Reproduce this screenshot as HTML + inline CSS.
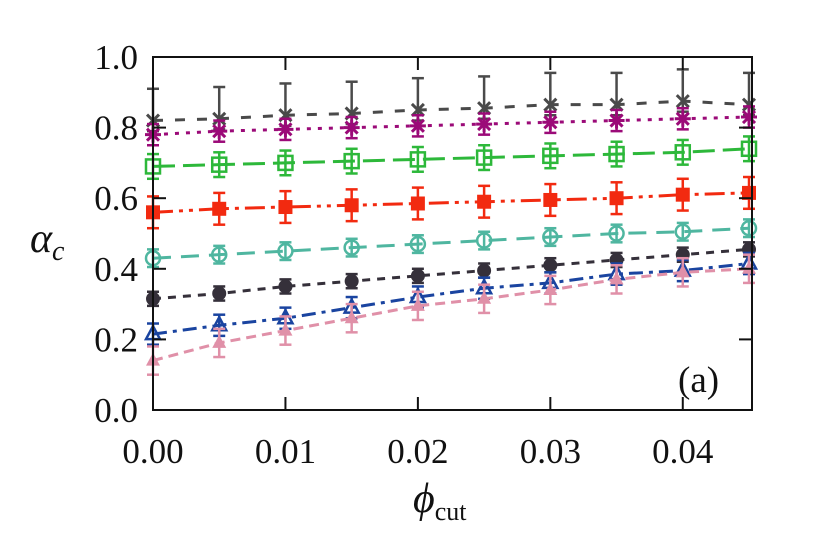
<!DOCTYPE html>
<html><head><meta charset="utf-8"><style>
body{margin:0;background:#fff;width:830px;height:535px;overflow:hidden}
text{font-family:"Liberation Serif","DejaVu Serif",serif;fill:#111}
</style></head><body>
<svg id="chart" width="830" height="535" viewBox="0 0 830 535" xmlns="http://www.w3.org/2000/svg" style="position:absolute;left:0;top:0">
<g id="marks"></g>
<g id="axes"></g>
</svg>
<script>
const xValues=[0,0.005,0.01,0.015,0.02,0.025,0.03,0.035,0.04,0.045];
const sGrayX=[0.82,0.825,0.835,0.84,0.85,0.855,0.865,0.865,0.875,0.865];
const sPurpleStar=[0.78,0.79,0.795,0.80,0.805,0.81,0.815,0.82,0.825,0.83];
const sGreenSquare=[0.69,0.695,0.70,0.705,0.71,0.715,0.72,0.725,0.73,0.74];
const sRedSquare=[0.56,0.57,0.575,0.58,0.585,0.59,0.595,0.60,0.61,0.615];
const sTealCircle=[0.43,0.44,0.45,0.46,0.47,0.48,0.49,0.50,0.505,0.515];
const sDarkDot=[0.315,0.33,0.35,0.365,0.38,0.395,0.41,0.425,0.44,0.455];
const sBlueTri=[0.215,0.24,0.26,0.29,0.32,0.345,0.36,0.385,0.395,0.415];
const sPinkTri=[0.14,0.19,0.225,0.26,0.295,0.315,0.34,0.37,0.39,0.40];
const errsUp=[0.09,0.03,0.035,0.045,0.025,0.02,0.03,0.04];
const errsDown=[0.03,0.03,0.035,0.045,0.025,0.02,0.03,0.04];
const xTicks=[0,0.01,0.02,0.03,0.04];
const xTickLabels=["0.00","0.01","0.02","0.03","0.04"];
const yTicks=[0,0.2,0.4,0.6,0.8,1.0];
const yTickLabels=["0.0","0.2","0.4","0.6","0.8","1.0"];

const L=153,R=752,T=57,B=410;
const xs=v=>L+v/0.045*(749-L);
const ys=v=>B-v*(B-T);
const NS="http://www.w3.org/2000/svg";
function mk(tag,attrs,parent){const e=document.createElementNS(NS,tag);for(const k in attrs)e.setAttribute(k,attrs[k]);parent.appendChild(e);return e;}
const marks=document.getElementById('marks'),axes=document.getElementById('axes');

const series=[
 {d:sGrayX,c:"#4a4a4a",dash:"10 12",m:"x",n:"gray-x"},
 {d:sPurpleStar,c:"#9b0a78",dash:"4 7",m:"star",n:"purple-star"},
 {d:sGreenSquare,c:"#2db83a",dash:"22 8",m:"osq",n:"green-square"},
 {d:sRedSquare,c:"#f22a10",dash:"20 6 4 6 4 6",m:"fsq",n:"red-square"},
 {d:sTealCircle,c:"#4fb6a0",dash:"18 10",m:"oc",n:"teal-circle"},
 {d:sDarkDot,c:"#35303a",dash:"8 7",m:"fc",n:"dark-dot"},
 {d:sBlueTri,c:"#1a44a0",dash:"14 6 4 6",m:"otri",n:"blue-triangle"},
 {d:sPinkTri,c:"#e090a8",dash:"10 6",m:"ftri",n:"pink-triangle"}
];
series.forEach((s,si)=>{
 const g=mk('g',{},marks);
 
 
 const pts=s.d.map((v,i)=>xs(xValues[i])+','+ys(v)).join(' ');
 const pl=mk('polyline',{points:pts,fill:'none',stroke:s.c,'stroke-width':3,'stroke-dasharray':s.dash},g);
 
 
 s.d.forEach((v,i)=>{
  const x=xs(xValues[i]),y=ys(v),eu=errsUp[si]*(B-T),ed=errsDown[si]*(B-T);
  mk('line',{x1:x,x2:x,y1:y-eu,y2:y+ed,stroke:s.c,'stroke-width':2.5},g);
  mk('line',{x1:x-6,x2:x+6,y1:y-eu,y2:y-eu,stroke:s.c,'stroke-width':2.5},g);
  mk('line',{x1:x-6,x2:x+6,y1:y+ed,y2:y+ed,stroke:s.c,'stroke-width':2.5},g);
  let m;
  if(s.m==='x'){m=mk('path',{d:`M${x-6} ${y-6}L${x+6} ${y+6}M${x-6} ${y+6}L${x+6} ${y-6}`,stroke:s.c,'stroke-width':3},g);}
  else if(s.m==='star'){m=mk('path',{d:`M${x-6} ${y-6}L${x+6} ${y+6}M${x-6} ${y+6}L${x+6} ${y-6}M${x} ${y-8}L${x} ${y+8}M${x-8} ${y}L${x+8} ${y}`,stroke:s.c,'stroke-width':3},g);}
  else if(s.m==='osq'){m=mk('rect',{x:x-7,y:y-7,width:14,height:14,fill:'none',stroke:s.c,'stroke-width':2.5},g);}
  else if(s.m==='fsq'){m=mk('rect',{x:x-7,y:y-7,width:14,height:14,fill:s.c},g);}
  else if(s.m==='oc'){m=mk('circle',{cx:x,cy:y,r:7,fill:'none',stroke:s.c,'stroke-width':2.5},g);}
  else if(s.m==='fc'){m=mk('circle',{cx:x,cy:y,r:7,fill:s.c},g);}
  else if(s.m==='otri'){m=mk('path',{d:`M${x} ${y-8}L${x+7} ${y+5}L${x-7} ${y+5}Z`,fill:'none',stroke:s.c,'stroke-width':2.5},g);}
  else {m=mk('path',{d:`M${x} ${y-8}L${x+7} ${y+5}L${x-7} ${y+5}Z`,fill:s.c},g);}
  
  
 });
});
const frame=mk('rect',{x:L,y:T,width:R-L,height:B-T,fill:'none',stroke:'#111','stroke-width':2},axes);


xTicks.forEach((v,i)=>{
 const x=xs(v);
 mk('line',{x1:x,x2:x,y1:B,y2:B-13,stroke:'#111','stroke-width':2},axes);
 mk('line',{x1:x,x2:x,y1:T,y2:T+13,stroke:'#111','stroke-width':2},axes);
 const t=mk('text',{x:x,y:463,'text-anchor':'middle','font-size':35},axes);
 t.textContent=xTickLabels[i];
 
 
});
yTicks.forEach((v,i)=>{
 const y=ys(v);
 mk('line',{x1:L,x2:L+13,y1:y,y2:y,stroke:'#111','stroke-width':2},axes);
 mk('line',{x1:R,x2:R-13,y1:y,y2:y,stroke:'#111','stroke-width':2},axes);
 const t=mk('text',{x:138,y:y+12,'text-anchor':'end','font-size':35},axes);
 t.textContent=yTickLabels[i];
 
 
});
</script>
<svg style="position:absolute;left:0;top:0" width="830" height="535">
<text x="30" y="252" font-size="42" font-style="italic">α<tspan font-size="28" dy="8">c</tspan></text>
<text x="413" y="512" font-size="42" font-style="italic">ϕ<tspan font-size="26" dy="8" font-style="normal">cut</tspan></text>
<text x="678" y="392" font-size="37">(a)</text>
</svg>
</body></html>
